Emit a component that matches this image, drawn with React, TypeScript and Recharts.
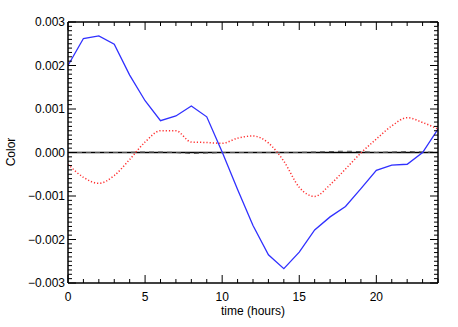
import { LineChart, Line, XAxis, YAxis, ReferenceLine } from 'recharts';

const hours = [0, 1, 2, 3, 4, 5, 6, 7, 8, 9, 10, 11, 12, 13, 14, 15, 16, 17, 18, 19, 20, 21, 22, 23, 24];
const blueSeries = [0.002, 0.00262, 0.00268, 0.00249, 0.00178, 0.00119, 0.00073, 0.00084, 0.00107, 0.00082, 0.00001, -0.00085, -0.00168, -0.00235, -0.00267, -0.00229, -0.00178, -0.00148, -0.00124, -0.00083, -0.00041, -0.00029, -0.00027, 0.0, 0.00054];
const redSeries = [-0.00027, -0.00057, -0.00071, -0.00053, -0.00016, 0.00024, 0.0005, 0.0005, 0.00024, 0.00023, 0.00021, 0.00033, 0.00038, 0.00022, -0.0002, -0.0008, -0.00101, -0.00074, -0.00038, -0.00001, 0.00031, 0.00061, 0.0008, 0.00069, 0.00054];
const dashSeries = [0, 0, 0, 0, 0, 0.00001, 0.00001, 0, -0.00002, -0.00001, 0, 0, 0, 0, 0, 0, 0.00001, 0.00002, 0.00003, 0.00002, 0, 0.00001, 0.00002, 0.00001, 0];

const xMajor = [0, 5, 10, 15, 20];
const yMajor = [-0.003, -0.002, -0.001, 0, 0.001, 0.002, 0.003];
const yLabels = ['\u22120.003', '\u22120.002', '\u22120.001', '0.000', '0.001', '0.002', '0.003'];

const xTicks = Array.from({ length: 25 }, (_, i) => i);
const yTicks = Array.from({ length: 61 }, (_, i) => (i - 30) / 10000);

const data = hours.map((h, i) => ({ h, blue: blueSeries[i], red: redSeries[i], dash: dashSeries[i] }));

const FONT = 'Liberation Sans, Arial, sans-serif';
const MAJOR = 8;
const MINOR = 4;

const isXMajor = (v: number) => xMajor.includes(Math.round(v));
const yMajorIndex = (v: number) => yMajor.findIndex((m) => Math.abs(m - v) < 1e-7);

const BottomTick = (props: any) => {
  const { x, y, payload } = props;
  const major = isXMajor(payload.value);
  return (
    <g>
      <line x1={x} x2={x} y1={y} y2={y - (major ? MAJOR : MINOR)} stroke="#000" strokeWidth={1} />
      {major && (
        <text x={x} y={y + 18} textAnchor="middle" fontSize={12} fontFamily={FONT} fill="#000">
          {Math.round(payload.value)}
        </text>
      )}
    </g>
  );
};

const TopTick = (props: any) => {
  const { x, y, payload } = props;
  const major = isXMajor(payload.value);
  return <line x1={x} x2={x} y1={y} y2={y + (major ? MAJOR : MINOR)} stroke="#000" strokeWidth={1} />;
};

const LeftTick = (props: any) => {
  const { x, y, payload } = props;
  const idx = yMajorIndex(payload.value);
  return (
    <g>
      <line x1={x} x2={x + (idx >= 0 ? MAJOR : MINOR)} y1={y} y2={y} stroke="#000" strokeWidth={1} />
      {idx >= 0 && (
        <text x={x - 3} y={y + 4} textAnchor="end" fontSize={12} fontFamily={FONT} fill="#000">
          {yLabels[idx]}
        </text>
      )}
    </g>
  );
};

const RightTick = (props: any) => {
  const { x, y, payload } = props;
  const major = yMajorIndex(payload.value) >= 0;
  return <line x1={x} x2={x - (major ? MAJOR : MINOR)} y1={y} y2={y} stroke="#000" strokeWidth={1} />;
};

export default function App() {
  return (
    <div style={{ position: 'absolute', left: 0, top: 0, width: 458, height: 327, background: '#fff' }}>
      <LineChart width={458} height={327} data={data} margin={{ top: 0, right: 0, left: 0, bottom: 0 }}>
        <XAxis
          xAxisId="b"
          dataKey="h"
          type="number"
          domain={[0, 24]}
          ticks={xTicks}
          interval={0}
          height={44}
          tickSize={0}
          tickMargin={0}
          tickLine={false}
          axisLine={{ stroke: '#000', strokeWidth: 1.5 }}
          tick={<BottomTick />}
          allowDataOverflow
        />
        <XAxis
          xAxisId="t"
          orientation="top"
          dataKey="h"
          type="number"
          domain={[0, 24]}
          ticks={xTicks}
          interval={0}
          height={22}
          tickSize={0}
          tickMargin={0}
          tickLine={false}
          axisLine={{ stroke: '#000', strokeWidth: 1.5 }}
          tick={<TopTick />}
          allowDataOverflow
        />
        <YAxis
          yAxisId="l"
          type="number"
          domain={[-0.003, 0.003]}
          ticks={yTicks}
          interval={0}
          width={68}
          tickSize={0}
          tickMargin={0}
          tickLine={false}
          axisLine={{ stroke: '#000', strokeWidth: 1.5 }}
          tick={<LeftTick />}
          allowDataOverflow
        />
        <YAxis
          yAxisId="r"
          orientation="right"
          type="number"
          domain={[-0.003, 0.003]}
          ticks={yTicks}
          interval={0}
          width={20}
          tickSize={0}
          tickMargin={0}
          tickLine={false}
          axisLine={{ stroke: '#000', strokeWidth: 1.5 }}
          tick={<RightTick />}
          allowDataOverflow
        />
        <ReferenceLine xAxisId="b" yAxisId="l" y={0} stroke="#000" strokeWidth={1.5} />
        <Line xAxisId="b" yAxisId="l" type="linear" dataKey="dash" stroke="#555" strokeWidth={1.2} strokeDasharray="5 4" dot={false} isAnimationActive={false} />
        <Line xAxisId="b" yAxisId="l" type="monotone" dataKey="red" stroke="#ff3030" strokeWidth={1.5} strokeDasharray="1.2 2" dot={false} isAnimationActive={false} />
        <Line xAxisId="b" yAxisId="l" type="linear" dataKey="blue" stroke="#3030ff" strokeWidth={1.3} dot={false} isAnimationActive={false} />
      </LineChart>
      <div style={{ position: 'absolute', left: 0, top: 0, width: 458, height: 327, pointerEvents: 'none' }}>
        <span style={{ position: 'absolute', left: 253, top: 304, transform: 'translateX(-50%)', fontFamily: FONT, fontSize: 12, whiteSpace: 'nowrap' }}>
          time (hours)
        </span>
        <span style={{ position: 'absolute', left: 11, top: 152, transform: 'translate(-50%, -50%) rotate(-90deg)', fontFamily: FONT, fontSize: 12, whiteSpace: 'nowrap' }}>
          Color
        </span>
      </div>
    </div>
  );
}
